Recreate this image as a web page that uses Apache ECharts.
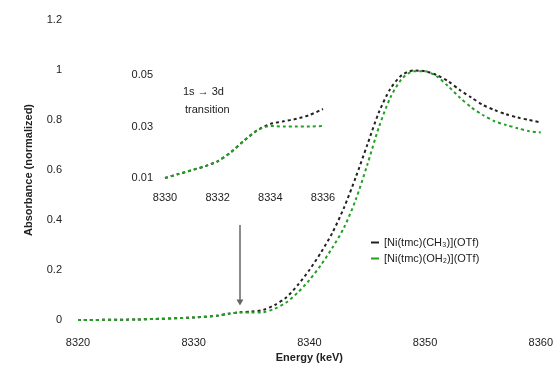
<!DOCTYPE html>
<html>
<head>
<meta charset="UTF-8">
<title>XANES</title>
<script src="https://cdn.jsdelivr.net/npm/echarts@6/dist/echarts.min.js"></script>
</head>
<body style="margin:0">
<div id='main' style="width:556px;height:375px"></div>
<script type="text/javascript">
// main spectrum
var energy=[8320,8325,8330,8332,8333,8334,8335,8336,8337,8338,8339,8340,8341,8342,8343,8344,8345,8346,8347,8348,8349,8350,8351,8352,8353,8354,8355,8356,8357,8358,8359,8360];
var niMethyl=[0,0.002,0.01,0.017,0.025,0.031,0.034,0.04,0.06,0.09,0.14,0.2,0.27,0.35,0.45,0.57,0.7,0.83,0.925,0.98,0.998,0.995,0.98,0.955,0.92,0.89,0.86,0.84,0.823,0.81,0.8,0.79];
var niHydroxo=[0,0.002,0.01,0.017,0.025,0.03,0.03,0.031,0.045,0.07,0.11,0.16,0.22,0.29,0.37,0.48,0.62,0.77,0.89,0.965,0.995,0.995,0.975,0.935,0.89,0.85,0.82,0.795,0.78,0.767,0.755,0.75];
// pre-edge inset
var insetEnergy=[8330,8330.5,8331,8331.5,8332,8332.5,8333,8333.5,8334,8334.5,8335,8335.5,8336];
var insetMethyl=[0.01,0.0115,0.013,0.0145,0.0165,0.02,0.0245,0.0285,0.031,0.032,0.033,0.0345,0.0368];
var insetHydroxo=[0.01,0.0115,0.013,0.0145,0.0165,0.02,0.0245,0.0285,0.0302,0.03,0.03,0.03,0.0302];
var names=['[Ni(tmc)(CH₃)](OTf)','[Ni(tmc)(OH₂)](OTf)'];

function pairs(xs,ys){
	var out=[];
	for(var i=0;i<xs.length;i++){out.push([xs[i],ys[i]]);}
	return out;
}

var font='Liberation Sans';
var lbl={color:'#222',fontSize:11,fontFamily:font,formatter:function(v){return String(v);}};
var myChart=echarts.init(document.getElementById('main'));
var option={
	animation:false,
	textStyle:{fontFamily:font},
	grid:[
		{left:78,right:2,top:20,bottom:55},
		{left:165,width:158,top:75,height:103}
	],
	xAxis:[
		{type:'value',gridIndex:0,min:8320,max:8360,interval:10,
			name:'Energy (keV)',nameLocation:'middle',nameGap:27,
			nameTextStyle:{fontWeight:'bold',fontSize:11,color:'#222'},
			axisLine:{show:false},axisTick:{show:false},splitLine:{show:false},
			axisLabel:Object.assign({},lbl,{margin:17})},
		{type:'value',gridIndex:1,min:8330,max:8336,interval:2,
			axisLine:{show:false},axisTick:{show:false},splitLine:{show:false},
			axisLabel:Object.assign({},lbl,{margin:14})}
	],
	yAxis:[
		{type:'value',gridIndex:0,min:0,max:1.2,interval:0.2,
			name:'Absorbance (normalized)',nameLocation:'middle',nameGap:44,
			nameTextStyle:{fontWeight:'bold',fontSize:11,color:'#222'},
			axisLine:{show:false},axisTick:{show:false},splitLine:{show:false},
			axisLabel:Object.assign({},lbl,{margin:16})},
		{type:'value',gridIndex:1,min:0.01,max:0.05,
			axisLine:{show:false},axisTick:{show:false},splitLine:{show:false},
			axisLabel:Object.assign({},lbl,{margin:12,customValues:[0.01,0.03,0.05],
				formatter:function(v){return v.toFixed(2);}})}
	],
	legend:{
		orient:'vertical',left:366,top:232,itemGap:5,
		itemWidth:8,itemHeight:2,icon:'rect',
		textStyle:{fontSize:11,color:'#222',fontFamily:font},
		data:names
	},
	series:[
		{name:names[0],type:'line',xAxisIndex:0,yAxisIndex:0,showSymbol:false,
			data:pairs(energy,niMethyl),smooth:0.25,
			itemStyle:{color:'#222'},
			lineStyle:{color:'#222',width:2,type:[3,3]},
			markLine:{silent:true,symbol:['none','triangle'],symbolSize:[7,6],label:{show:false},
				lineStyle:{color:'#666',width:1.5,type:'solid'},
				data:[[{coord:[8334,0.38]},{coord:[8334,0.07]}]]}},
		{name:names[1],type:'line',xAxisIndex:0,yAxisIndex:0,showSymbol:false,
			data:pairs(energy,niHydroxo),smooth:0.25,
			itemStyle:{color:'#22a022'},
			lineStyle:{color:'#22a022',width:2,type:[3,3]}},
		{name:names[0],type:'line',xAxisIndex:1,yAxisIndex:1,showSymbol:false,
			data:pairs(insetEnergy,insetMethyl),smooth:0.25,
			lineStyle:{color:'#222',width:2,type:[3,3]}},
		{name:names[1],type:'line',xAxisIndex:1,yAxisIndex:1,showSymbol:false,
			data:pairs(insetEnergy,insetHydroxo),smooth:0.25,
			lineStyle:{color:'#22a022',width:2,type:[3,3]}}
	],
	graphic:[
		{type:'text',left:183,top:86,style:{text:'1s → 3d',fill:'#222',font:'11px '+font}},
		{type:'text',left:185,top:104,style:{text:'transition',fill:'#222',font:'11px '+font}}
	]
};
myChart.setOption(option);
</script>
</body>
</html>
